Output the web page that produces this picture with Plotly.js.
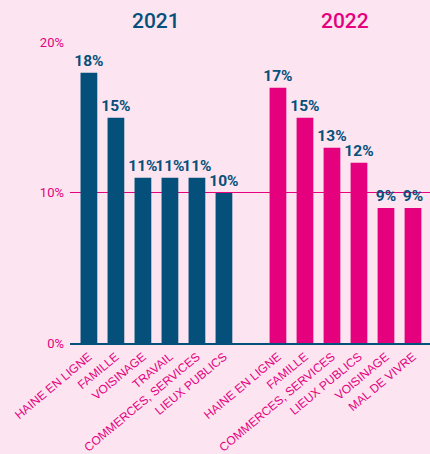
<!DOCTYPE html>
<html>
<head>
<meta charset="utf-8">
<script src="https://cdn.plot.ly/plotly-3.0.1.min.js"></script>
<style>
  html, body { margin: 0; padding: 0; background: #fce5f1; }
  #chart { width: 430px; height: 454px; }
</style>
</head>
<body>
<div id="chart"></div>
<script>
const cats2021 = ["HAINE EN LIGNE", "FAMILLE", "VOISINAGE", "TRAVAIL", "COMMERCES, SERVICES", "LIEUX PUBLICS"];
const vals2021 = [18, 15, 11, 11, 11, 10];
const cats2022 = ["HAINE EN LIGNE", "FAMILLE", "COMMERCES, SERVICES", "LIEUX PUBLICS", "VOISINAGE", "MAL DE VIVRE"];
const vals2022 = [17, 15, 13, 12, 9, 9];
const groupTitles = ["2021", "2022"];
const yTicks = [0, 10, 20];

const BLUE = "#04507a";
const MAG = "#e5007e";
const BG = "#fce5f1";

const gap = 1;
const x2021 = cats2021.map((c, i) => i);
const x2022 = cats2022.map((c, i) => cats2021.length + gap + i);

const labelFont = { family: "Roboto, sans-serif", size: 15.5, color: BLUE, weight: 700 };

const traces = [
  {
    type: "bar", x: x2021, y: vals2021, marker: { color: BLUE }, width: 0.62,
    text: vals2021.map(v => v + "%"), textposition: "outside", cliponaxis: false,
    constraintext: "none", textfont: labelFont, hoverinfo: "skip"
  },
  {
    type: "bar", x: x2022, y: vals2022, marker: { color: MAG }, width: 0.62,
    text: vals2022.map(v => v + "%"), textposition: "outside", cliponaxis: false,
    constraintext: "none", textfont: labelFont, hoverinfo: "skip"
  }
];

const layout = {
  width: 430, height: 454,
  paper_bgcolor: BG, plot_bgcolor: BG,
  margin: { l: 70, r: 0, t: 42, b: 111 },
  showlegend: false,
  barmode: "overlay",
  xaxis: {
    range: [-0.7, 12.63],
    tickvals: x2021.concat(x2022),
    ticktext: cats2021.concat(cats2022),
    tickangle: -40,
    tickfont: { family: "Liberation Sans, Arial, sans-serif", size: 12, color: MAG },
    showgrid: false, zeroline: false,
    showline: true, linecolor: BLUE, linewidth: 2,
    ticks: "", fixedrange: true
  },
  yaxis: {
    range: [0, 20.05],
    tickvals: yTicks,
    ticktext: yTicks.map(v => v + "%"),
    tickfont: { family: "Roboto, sans-serif", size: 13, color: MAG },
    showgrid: true, gridcolor: MAG, gridwidth: 1,
    zeroline: false, showline: false, ticks: "",
    ticklabelstandoff: 5, fixedrange: true
  },
  annotations: [
    { text: groupTitles[0], x: (x2021[0] + x2021[x2021.length - 1]) / 2, xref: "x", yref: "paper", yanchor: "middle",
      showarrow: false, font: { family: "Roboto, sans-serif", size: 21, color: BLUE, weight: 500 } },
    { text: groupTitles[1], x: (x2022[0] + x2022[x2022.length - 1]) / 2, xref: "x", yref: "paper", yanchor: "middle",
      showarrow: false, font: { family: "Roboto, sans-serif", size: 21, color: MAG, weight: 500 } }
  ]
};
const plotH = 454 - 42 - 111;
layout.annotations.forEach(a => { a.y = 1 + (42 - 21) / plotH; });

Plotly.newPlot("chart", traces, layout, { displayModeBar: false, staticPlot: true });
</script>
</body>
</html>
